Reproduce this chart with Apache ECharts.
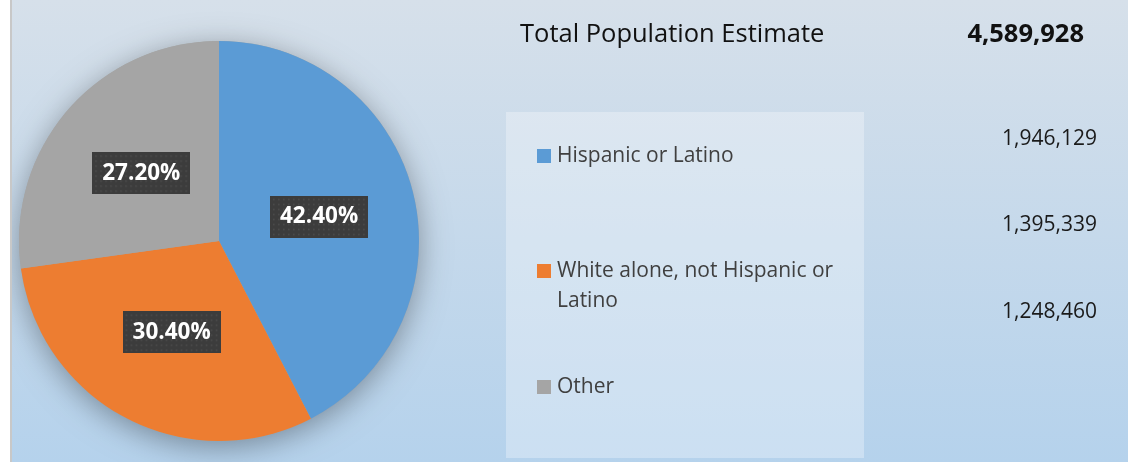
<!DOCTYPE html>
<html>
<head>
<meta charset="utf-8">
<script src="https://cdn.jsdelivr.net/npm/echarts@6/dist/echarts.min.js"></script>
<style>
html,body{margin:0;padding:0;background:#fff;}
#chart{width:1128px;height:462px;}
</style>
</head>
<body>
<div id="chart"></div>
<script>
const categories = ['Hispanic or Latino', 'White alone, not Hispanic or\nLatino', 'Other'];
const values = [1946129, 1395339, 1248460];
const colors = ['#5b9bd5', '#ed7d31', '#a5a5a5'];
const titleText = 'Total Population Estimate';
const totalValue = 4589928;

const fmt = v => v.toLocaleString('en-US');

// dotted label background
function makePattern(w, h) {
  const c = document.createElement('canvas');
  c.width = w; c.height = h;
  const g = c.getContext('2d');
  g.fillStyle = '#3c3c3c';
  g.fillRect(0, 0, w, h);
  g.fillStyle = '#4f4f4f';
  for (let y = 3; y < h; y += 5) {
    for (let x = 3; x < w; x += 5) {
      g.fillRect(x, y, 1.5, 1.5);
    }
  }
  return c;
}
const pattern = makePattern(98, 42);

const chart = echarts.init(document.getElementById('chart'), null, {renderer: 'canvas'});

const legendY = [141, 256, 372];
const valueY = [139, 225, 312];

const graphics = [
  {type: 'rect', z: 100, silent: true, shape: {x: 0, y: 0, width: 10, height: 462}, style: {fill: '#ffffff'}},
  {type: 'rect', z: 100, silent: true, shape: {x: 10, y: 0, width: 2, height: 462}, style: {fill: '#c8c8c8'}},
  {type: 'rect', z: -20, silent: true, shape: {x: 12, y: 0, width: 1116, height: 462},
    style: {fill: new echarts.graphic.LinearGradient(0, 0, 0, 1, [
      {offset: 0, color: '#d6e0ea'},
      {offset: 1, color: '#b5d2ec'}
    ])}},
  {type: 'rect', z: -10, silent: true, shape: {x: 506, y: 112, width: 358, height: 346},
    style: {fill: 'rgba(255,255,255,0.3)'}},
  {type: 'text', z: 10, x: 520, y: 22,
    style: {text: titleText, font: '25.5px "Open Sans"', fill: '#111', textVerticalAlign: 'top'}},
  {type: 'text', z: 10, x: 1084, y: 22,
    style: {text: fmt(totalValue), font: 'bold 25.5px "Open Sans"', fill: '#111', textAlign: 'right', textVerticalAlign: 'top'}}
];

categories.forEach((name, i) => {
  graphics.push({type: 'rect', z: 10, silent: true,
    shape: {x: 537, y: legendY[i] + 8, width: 14, height: 14}, style: {fill: colors[i]}});
  graphics.push({type: 'text', z: 10, x: 557, y: legendY[i],
    style: {text: name, font: '21px "Open Sans"', fill: '#404040', lineHeight: 30, textVerticalAlign: 'top'}});
});
values.forEach((v, i) => {
  graphics.push({type: 'text', z: 10, x: 1097, y: valueY[i],
    style: {text: fmt(v), font: '21px "Open Sans"', fill: '#1a1a1a', textAlign: 'right', textVerticalAlign: 'middle'}});
});

chart.setOption({
  animation: false,
  backgroundColor: '#ffffff',
  graphic: graphics,
  series: [
    {
      type: 'pie', z: 1, silent: true,
      center: [219, 241], radius: 200,
      label: {show: false}, labelLine: {show: false},
      data: [{value: totalValue, name: 'shadow'}],
      itemStyle: {color: '#a5a5a5', shadowBlur: 30, shadowColor: 'rgba(0,0,0,0.35)', shadowOffsetY: 6}
    },
    {
      type: 'pie', z: 2,
      center: [219, 241], radius: 200,
      startAngle: 90, clockwise: true,
      color: colors,
      itemStyle: {borderWidth: 0},
      label: {
        show: true, position: 'inside',
        formatter: p => p.percent.toFixed(2) + '%',
        color: '#ffffff', fontFamily: 'Open Sans', fontWeight: 'bold', fontSize: 22.5,
        lineHeight: 24, padding: [9, 10],
        backgroundColor: {image: pattern},
        shadowColor: 'rgba(0,0,0,0.5)', shadowBlur: 4, shadowOffsetX: 2, shadowOffsetY: 3
      },
      labelLine: {show: false},
      emphasis: {disabled: true},
      data: categories.map((n, i) => ({name: n, value: values[i]}))
    }
  ]
});
</script>
</body>
</html>
